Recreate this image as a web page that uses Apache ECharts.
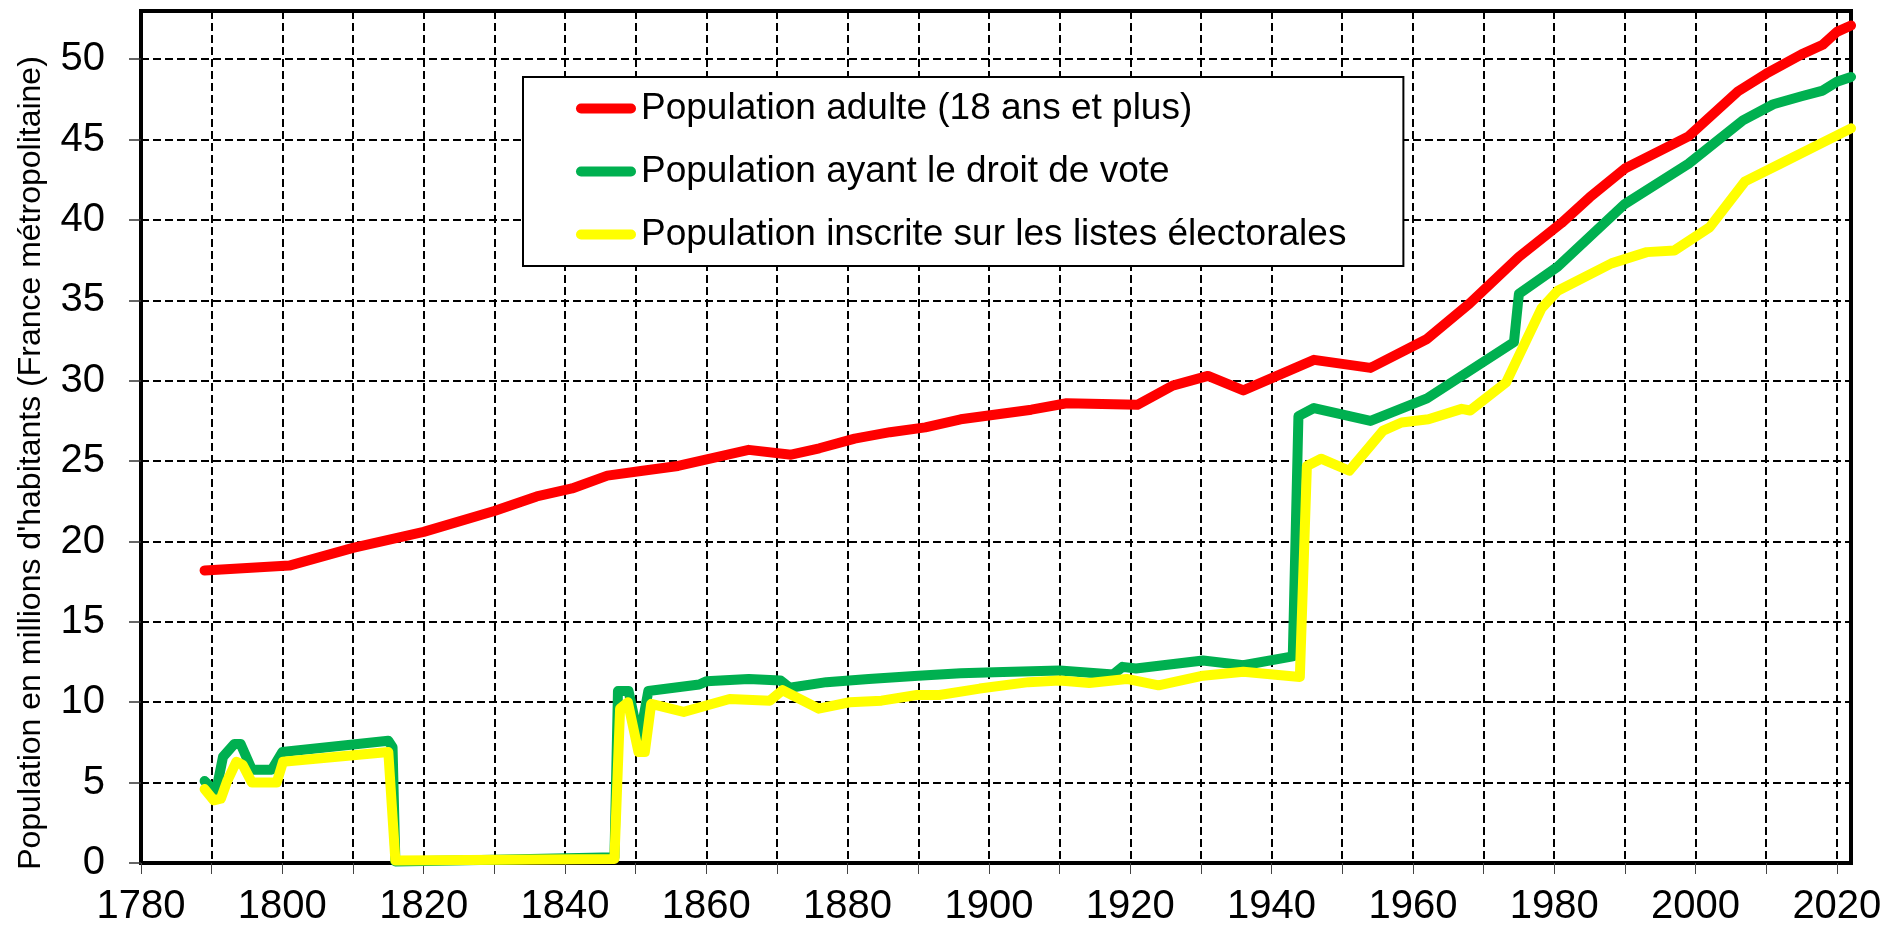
<!DOCTYPE html>
<html>
<head>
<meta charset="utf-8">
<script src="https://cdn.jsdelivr.net/npm/echarts@6/dist/echarts.min.js"></script>
<style>
  html, body { margin: 0; padding: 0; background: #fff; }
  #chart { width: 1900px; height: 933px; }
</style>
</head>
<body>
<div id="chart"></div>
<script>
// population adulte (18 ans et plus)
const adultYears = [1789, 1801, 1810, 1820, 1830, 1836, 1841, 1846, 1851, 1856, 1861, 1866, 1872, 1876, 1881, 1886, 1891, 1896, 1901, 1906, 1911, 1921, 1926, 1931, 1936, 1946, 1954, 1962, 1968, 1975, 1981, 1985, 1990, 1999, 2006, 2010, 2015, 2018, 2020, 2022];
const adultValues = [18.2, 18.5, 19.6, 20.6, 21.9, 22.8, 23.3, 24.1, 24.4, 24.7, 25.2, 25.7, 25.4, 25.8, 26.4, 26.8, 27.1, 27.6, 27.9, 28.2, 28.6, 28.5, 29.7, 30.3, 29.4, 31.3, 30.8, 32.6, 34.8, 37.7, 39.8, 41.4, 43.2, 45.2, 48.0, 49.1, 50.3, 50.9, 51.7, 52.1];

// population ayant le droit de vote
const voteYears = [1789, 1790.6, 1791.6, 1793.2, 1794.1, 1795.7, 1798.5, 1800, 1815, 1815.6, 1816, 1830, 1847, 1847.5, 1849, 1850.5, 1851.8, 1859, 1860, 1866, 1870.5, 1871.8, 1877, 1883, 1890, 1896, 1902, 1910, 1917.6, 1918.9, 1920.8, 1930.3, 1936, 1943, 1943.8, 1946, 1954, 1962, 1974.3, 1975, 1980.5, 1990, 1999, 2006.7, 2011, 2015, 2018, 2020, 2022];
const voteValues = [5.1, 4.4, 6.6, 7.4, 7.4, 5.8, 5.8, 6.9, 7.6, 7.2, 0.1, 0.2, 0.35, 10.7, 10.7, 7.6, 10.7, 11.1, 11.3, 11.45, 11.35, 10.9, 11.25, 11.45, 11.65, 11.8, 11.88, 11.98, 11.73, 12.2, 12.1, 12.6, 12.3, 12.85, 27.8, 28.3, 27.5, 28.9, 32.4, 35.4, 37.1, 41.0, 43.5, 46.2, 47.2, 47.7, 48.05, 48.6, 48.9];

// population inscrite sur les listes électorales
const listYears = [1789, 1790.3, 1791.3, 1792.2, 1793.5, 1794.4, 1795.7, 1799.2, 1800.1, 1815, 1816, 1847, 1847.8, 1848.9, 1850.4, 1851.3, 1852.2, 1856.8, 1863.3, 1869, 1870.8, 1875.9, 1880.3, 1884.8, 1889.8, 1893, 1898.7, 1905.6, 1910, 1914.2, 1919.5, 1924, 1930.3, 1936, 1944, 1945, 1947, 1951, 1955.8, 1958.4, 1962.2, 1966.9, 1968.1, 1973.2, 1978.2, 1980.5, 1988.1, 1993.1, 1997, 2002, 2007, 2012, 2022];
const listValues = [4.6, 3.9, 4.0, 5.1, 6.3, 6.1, 5.0, 5.0, 6.3, 6.9, 0.15, 0.25, 9.6, 10.0, 6.9, 6.9, 9.9, 9.4, 10.2, 10.1, 10.75, 9.6, 10.0, 10.1, 10.45, 10.45, 10.85, 11.25, 11.35, 11.2, 11.45, 11.05, 11.65, 11.9, 11.57, 24.7, 25.15, 24.4, 26.9, 27.4, 27.6, 28.25, 28.15, 29.9, 34.5, 35.6, 37.3, 38.0, 38.1, 39.55, 42.4, 43.5, 45.7];

const seriesNames = [
  'Population adulte (18 ans et plus)',
  'Population ayant le droit de vote',
  'Population inscrite sur les listes électorales'
];
const seriesColors = ['#ff0000', '#00b050', '#ffff00'];

const xTicks = [1780, 1790, 1800, 1810, 1820, 1830, 1840, 1850, 1860, 1870, 1880, 1890, 1900, 1910, 1920, 1930, 1940, 1950, 1960, 1970, 1980, 1990, 2000, 2010, 2020];
const yTicks = [0, 5, 10, 15, 20, 25, 30, 35, 40, 45, 50];

const FONT = '"Liberation Sans", Arial, sans-serif';

function pairs(xs, ys) {
  return xs.map((x, i) => [x, ys[i]]);
}

const chart = echarts.init(document.getElementById('chart'));

function lineSeries(idx, data) {
  return {
    name: seriesNames[idx],
    type: 'line',
    data: data,
    showSymbol: false,
    symbol: 'none',
    color: seriesColors[idx],
    lineStyle: { width: 10, color: seriesColors[idx], cap: 'round', join: 'round' },
    itemStyle: { color: seriesColors[idx] }
  };
}

const option = {
  animation: false,
  backgroundColor: '#fff',
  textStyle: { fontFamily: FONT },
  grid: {
    left: 141, top: 11, right: 49, bottom: 70,
    show: true, borderColor: '#000', borderWidth: 4, backgroundColor: 'transparent'
  },
  legend: {
    orient: 'vertical',
    left: 523, top: 77,
    padding: [13, 57, 13, 53],
    itemGap: 26,
    itemWidth: 60, itemHeight: 10,
    icon: 'path://M5,0H55A5,5,0,0,1,55,10H5A5,5,0,0,1,5,0Z',
    backgroundColor: '#fff',
    borderColor: '#000', borderWidth: 2,
    textStyle: { fontSize: 37, color: '#000', fontFamily: FONT },
    data: seriesNames
  },
  xAxis: {
    type: 'value',
    min: 1780, max: 2022, interval: 10,
    axisLine: { show: true, lineStyle: { color: '#000', width: 4 } },
    axisTick: { show: true, length: 11, customValues: xTicks, lineStyle: { color: '#444', width: 1 } },
    axisLabel: {
      fontSize: 40, color: '#000', margin: 24, fontFamily: FONT,
      customValues: xTicks.filter(v => v % 20 === 0),
      formatter: v => (v % 20 === 0 && v <= 2020 ? String(v) : '')
    },
    splitLine: { show: true, lineStyle: { color: '#000', width: 2, type: [8, 4] } }
  },
  yAxis: {
    type: 'value',
    min: 0, max: 53, interval: 5,
    axisLine: { show: true, lineStyle: { color: '#000', width: 4 } },
    axisTick: { show: true, length: 12, customValues: yTicks, lineStyle: { color: '#333', width: 1.5 } },
    axisLabel: {
      fontSize: 40, color: '#000', margin: 36, fontFamily: FONT,
      customValues: yTicks,
      formatter: v => (v <= 50 ? String(v) : '')
    },
    splitLine: { show: true, lineStyle: { color: '#000', width: 2, type: [8, 4] } }
  },
  graphic: [
    {
      type: 'text',
      x: 31, y: 463,
      rotation: Math.PI / 2,
      style: {
        text: "Population en millions d'habitants (France métropolitaine)",
        fontSize: 32, fontFamily: FONT, fill: '#000',
        textAlign: 'center', textVerticalAlign: 'middle'
      }
    }
  ],
  series: [
    lineSeries(0, pairs(adultYears, adultValues)),
    lineSeries(1, pairs(voteYears, voteValues)),
    lineSeries(2, pairs(listYears, listValues))
  ]
};

chart.setOption(option);
</script>
</body>
</html>
